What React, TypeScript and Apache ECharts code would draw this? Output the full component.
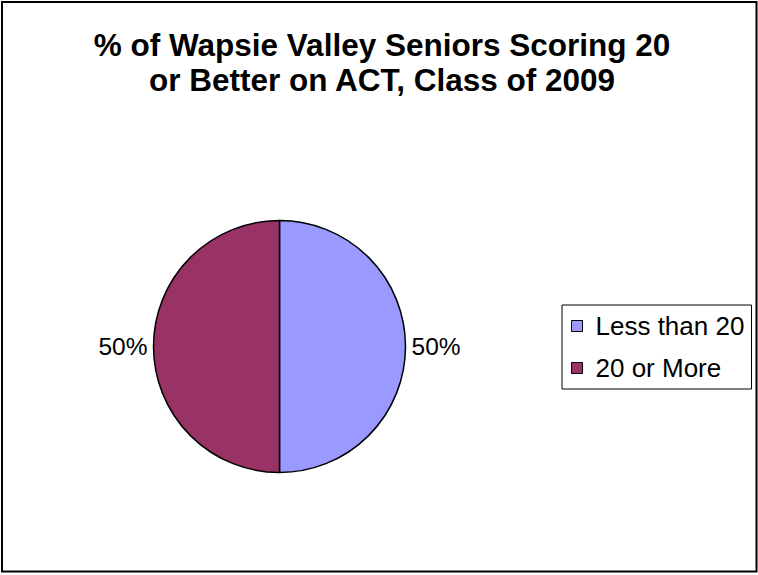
import React, { useEffect, useRef } from "react";
import * as echarts from "echarts";

const titleLines = ["% of Wapsie Valley Seniors Scoring 20", "or Better on ACT, Class of 2009"];
const categories = ["Less than 20", "20 or More"];
const values = [50, 50];
const colors = ["#9999FF", "#993366"];

const FONT = "'Liberation Sans', Arial, Helvetica, sans-serif";

export default function App() {
  const ref = useRef<HTMLDivElement>(null);
  useEffect(() => {
    if (!ref.current) return;
    const chart = echarts.init(ref.current, null, { renderer: "svg" });
    chart.setOption({
      animation: false,
      backgroundColor: "#ffffff",
      title: {
        text: titleLines.join("\n"),
        left: 377,
        textAlign: "center",
        top: 22,
        textStyle: {
          fontFamily: FONT,
          fontSize: 31.5,
          fontWeight: "bold",
          color: "#000",
          lineHeight: 35,
        },
      },
      graphic: [
        {
          type: "rect",
          shape: { x: 2, y: 2, width: 754.5, height: 569.5 },
          style: { fill: "none", stroke: "#000", lineWidth: 2 },
          silent: true,
        },
      ],
      legend: {
        orient: "vertical",
        left: 562,
        top: 305,
        data: categories,
        borderColor: "#000",
        borderWidth: 1,
        padding: [8, 6, 8, 9],
        itemGap: 16,
        itemWidth: 11,
        itemHeight: 11,
        icon: "rect",
        itemStyle: { borderColor: "#000", borderWidth: 1 },
        textStyle: {
          fontFamily: FONT,
          fontSize: 26,
          color: "#000",
          lineHeight: 25,
          padding: [0, 0, 0, 8],
          width: 150,
        },
      },
      series: [
        {
          type: "pie",
          center: [279.5, 346.5],
          radius: 126,
          startAngle: 90,
          clockwise: true,
          avoidLabelOverlap: false,
          color: colors,
          itemStyle: { borderColor: "#000", borderWidth: 1.5 },
          label: {
            show: true,
            position: "outside",
            formatter: "{d}%",
            fontFamily: FONT,
            fontSize: 24.5,
            color: "#000",
          },
          labelLine: { show: false, length: 1, length2: 0 },
          emphasis: { disabled: true },
          data: categories.map((name, i) => ({ name, value: values[i] })),
        },
      ],
    });
    return () => chart.dispose();
  }, []);
  return (
    <div
      ref={ref}
      style={{ position: "fixed", left: 0, top: 0, width: 758, height: 575, background: "#fff" }}
    />
  );
}
